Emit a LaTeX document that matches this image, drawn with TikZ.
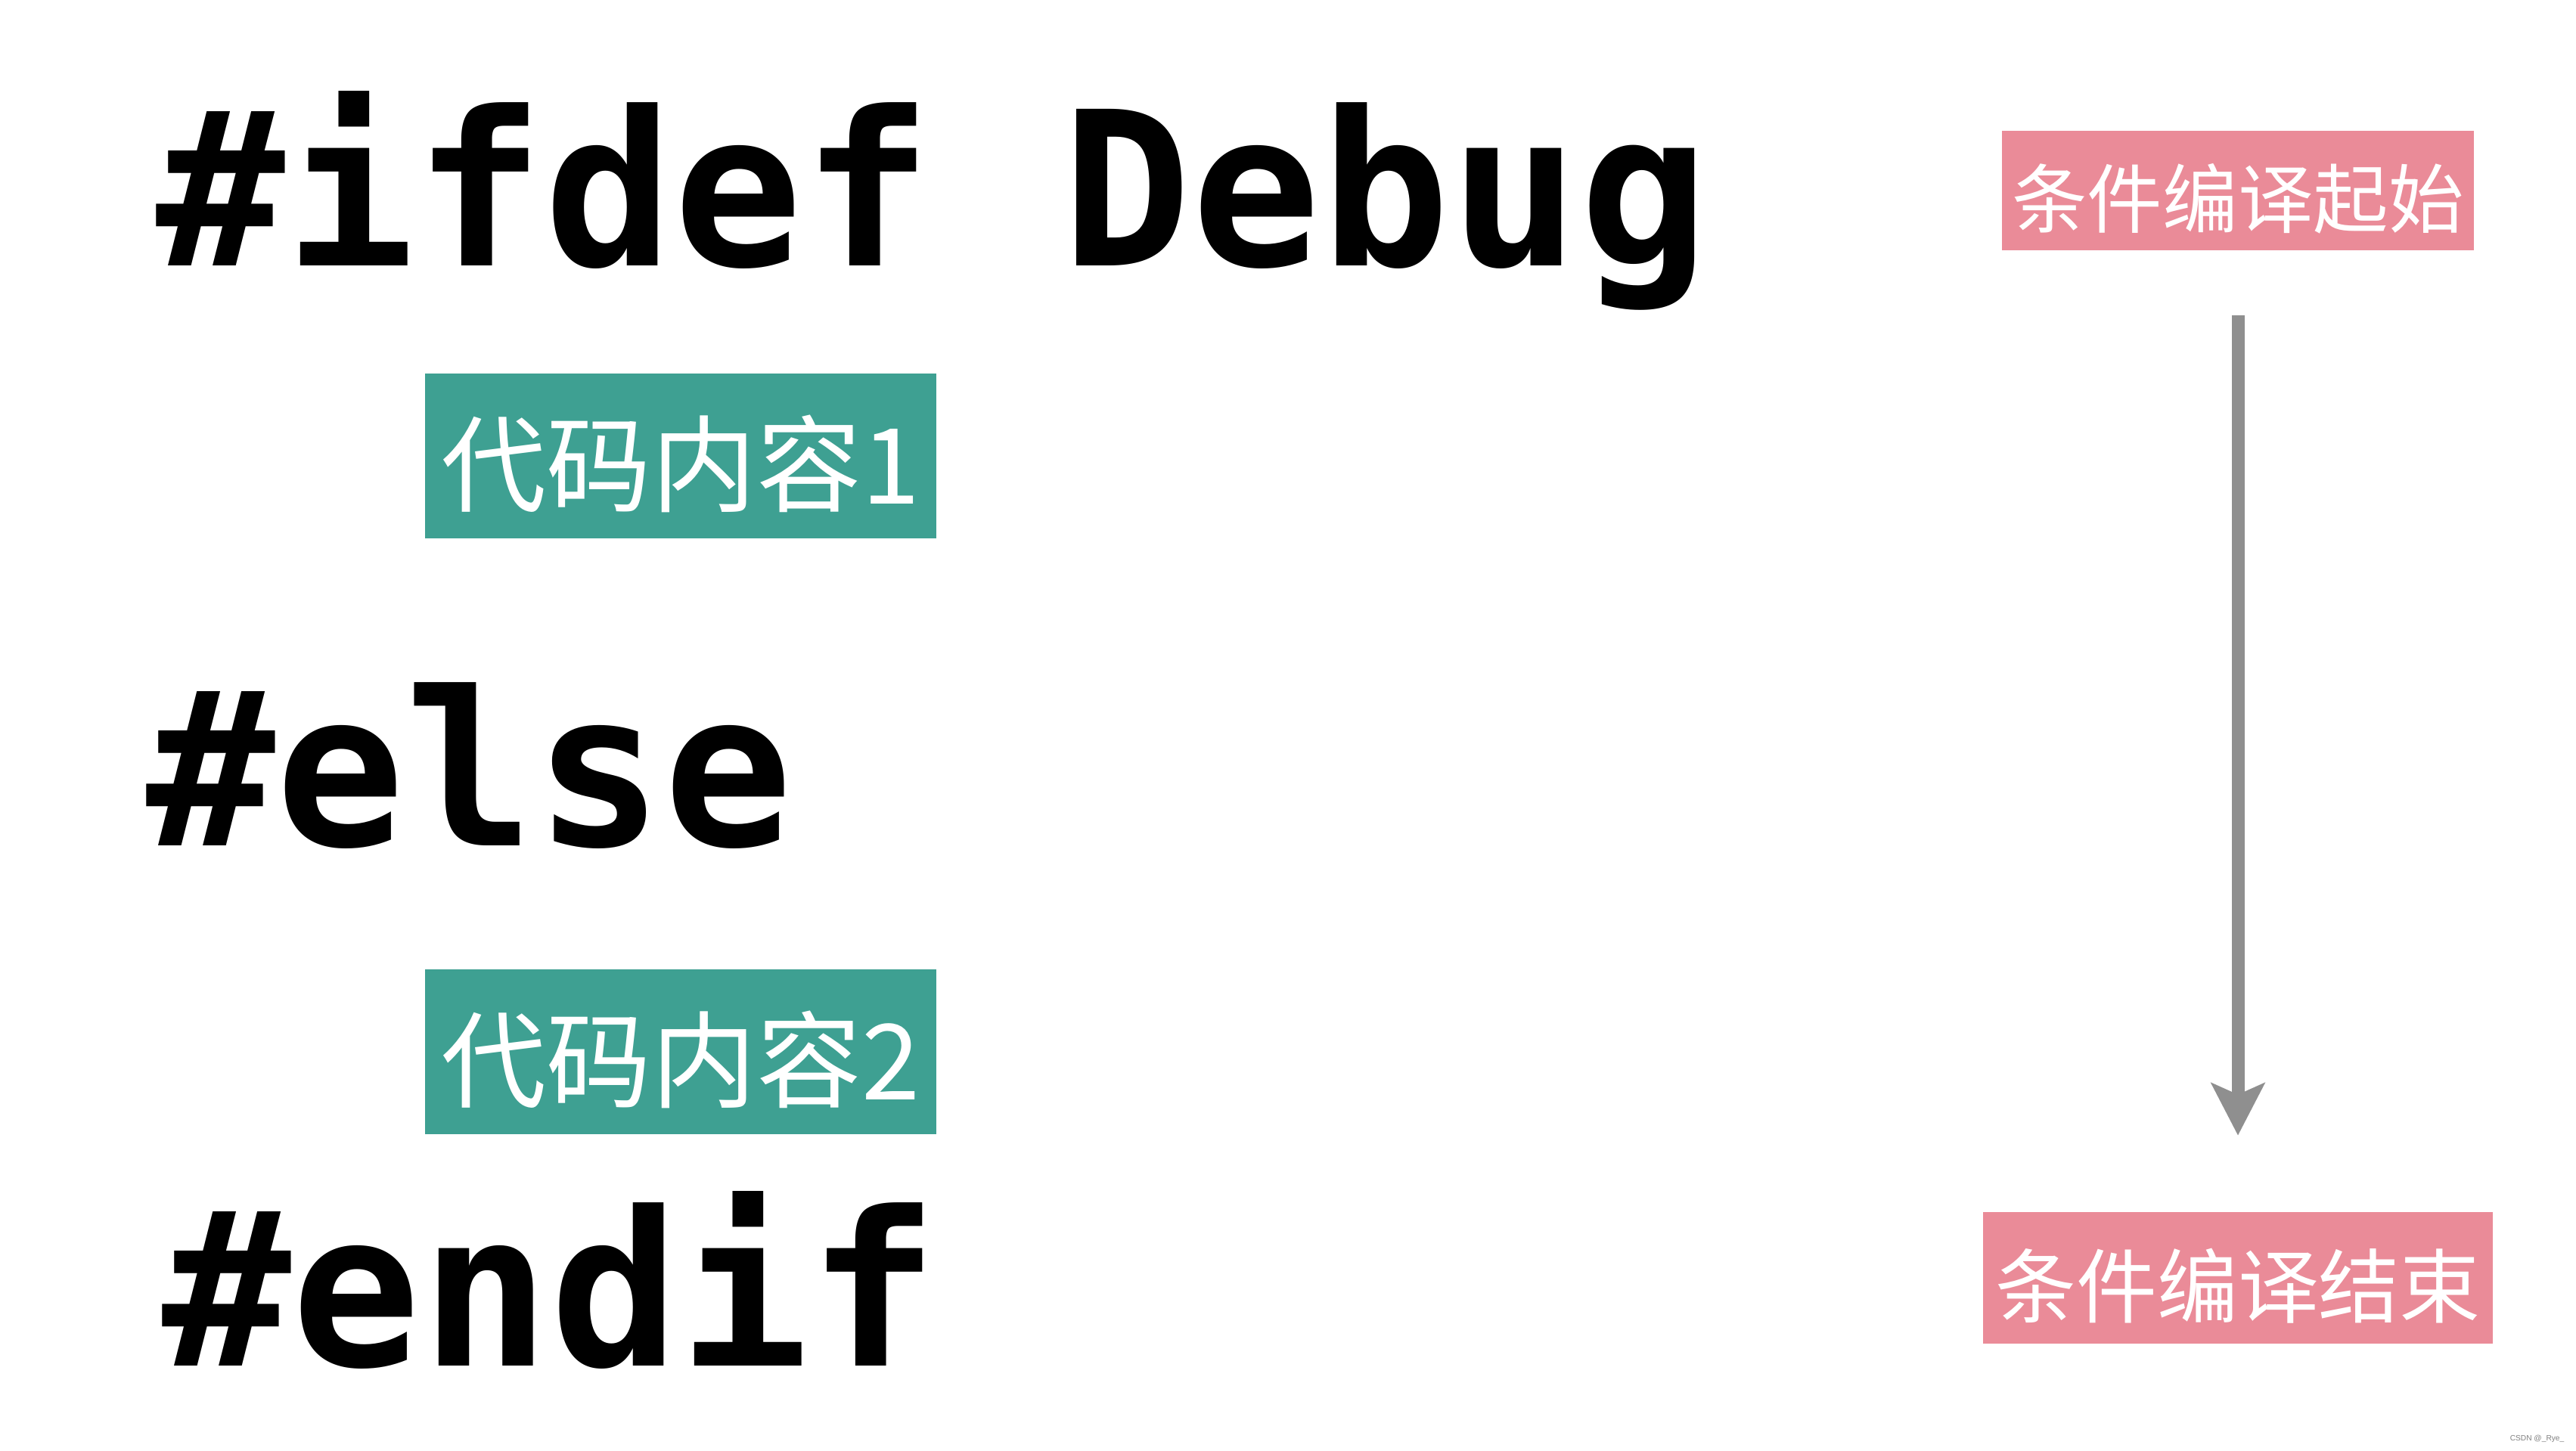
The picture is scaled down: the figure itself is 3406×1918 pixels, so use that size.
\documentclass[tikz,border=0pt]{standalone}
\usepackage{fontspec}
\usepackage{tikz}
\usetikzlibrary{arrows.meta}

\newfontfamily\codefont{DejaVu Sans Mono}
\newfontfamily\cjk{Noto Sans CJK SC}
\newfontfamily\markfont{Liberation Sans}

\definecolor{tealfill}{RGB}{62,160,146}
\definecolor{pinkfill}{RGB}{234,139,152}
\definecolor{flowgray}{RGB}{143,143,143}

\tikzset{
  codeline/.style={anchor=base west,inner sep=0pt,
    font=\codefont\bfseries\fontsize{80.8}{81}\selectfont},
  blockbox/.style={fill=tealfill,text=white,inner sep=0pt,
    minimum width=6.76cm,minimum height=2.18cm,
    text height=40pt,text depth=4pt,
    font=\cjk\fontsize{39.5}{40}\selectfont},
  tagbox/.style={fill=pinkfill,text=white,inner sep=0pt}
}

\begin{document}
\begin{tikzpicture}[x=0.01cm,y=-0.01cm,
    flow/.style={draw=flowgray,line width=0.17cm,
      -{Stealth[length=0.69cm,width=0.70cm,inset=0.15cm]}}]
  \useasboundingbox (0,0) rectangle (3406,1918);

  % preprocessor lines
  \node[codeline] (ifdefln) at (206,351) {\#ifdef Debug};
  \node[codeline] (elseln) at (193,1118) {\#else};
  \node[codeline] (endifln) at (214,1806) {\#endif};

  % code blocks
  \node[blockbox] (block1) at (900,603) {代码内容1};
  \node[blockbox] (block2) at (900,1391) {代码内容2};

  % start / end labels
  \node[tagbox,minimum width=6.23cm,minimum height=1.57cm,text height=30pt,text depth=2.5pt,
    font=\cjk\fontsize{28.3}{29}\selectfont] (startlbl) at (2959,252) {条件编译起始};
  \node[tagbox,minimum width=6.73cm,minimum height=1.73cm,text height=32pt,text depth=3pt,
    font=\cjk\fontsize{30.4}{31}\selectfont] (endlbl) at (2959,1690) {条件编译结束};

  \draw[flow,shorten <=0.86cm,shorten >=1.01cm] (startlbl.south) -- (endlbl.north);

  \node[anchor=east,inner sep=0pt,text=gray,
    font=\markfont\fontsize{2.9}{3}\selectfont] (wmark) at (3391,1903) {CSDN @\_Rye\_};
\end{tikzpicture}
\end{document}
